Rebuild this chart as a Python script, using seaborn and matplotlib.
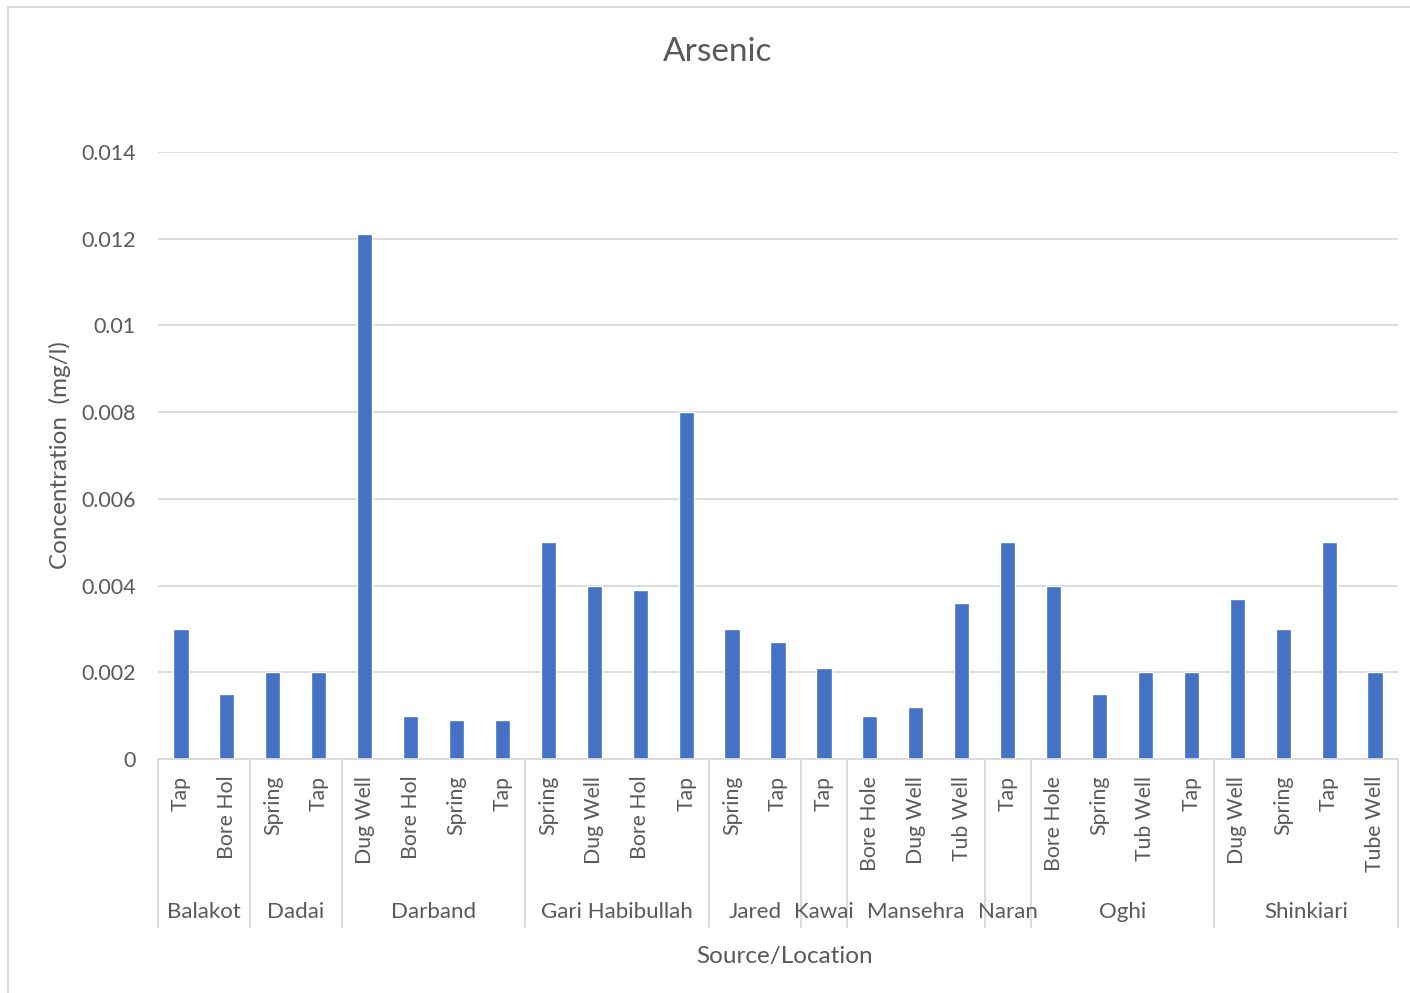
import matplotlib
matplotlib.use("Agg")
import matplotlib.pyplot as plt
from matplotlib.lines import Line2D
import seaborn as sns
import pandas as pd

# Arsenic concentration by location and water source
locations = ["Balakot", "Balakot",
             "Dadai", "Dadai",
             "Darband", "Darband", "Darband", "Darband",
             "Gari Habibullah", "Gari Habibullah", "Gari Habibullah", "Gari Habibullah",
             "Jared", "Jared",
             "Kawai",
             "Mansehra", "Mansehra", "Mansehra",
             "Naran",
             "Oghi", "Oghi", "Oghi", "Oghi",
             "Shinkiari", "Shinkiari", "Shinkiari", "Shinkiari"]
sources = ["Tap", "Bore Hol",
           "Spring", "Tap",
           "Dug Well", "Bore Hol", "Spring", "Tap",
           "Spring", "Dug Well", "Bore Hol", "Tap",
           "Spring", "Tap",
           "Tap",
           "Bore Hole", "Dug Well", "Tub Well",
           "Tap",
           "Bore Hole", "Spring", "Tub Well", "Tap",
           "Dug Well", "Spring", "Tap", "Tube Well"]
arsenic = [0.003, 0.0015,
           0.002, 0.002,
           0.0121, 0.001, 0.0009, 0.0009,
           0.005, 0.004, 0.0039, 0.008,
           0.003, 0.0027,
           0.0021,
           0.001, 0.0012, 0.0036,
           0.005,
           0.004, 0.0015, 0.002, 0.002,
           0.0037, 0.003, 0.005, 0.002]
y_ticks = [0, 0.002, 0.004, 0.006, 0.008, 0.01, 0.012, 0.014]
y_tick_labels = ["0", "0.002", "0.004", "0.006", "0.008", "0.01", "0.012", "0.014"]

TEXT = "#595959"
GRID = "#D9D9D9"
BAR = "#4472C4"
FONT = ["Lato", "DejaVu Sans"]

sns.set_theme(style="white")
plt.rcParams["font.family"] = FONT

df = pd.DataFrame({"location": locations, "source": sources, "value": arsenic})
df["key"] = [f"{l}|{s}|{i}" for i, (l, s) in enumerate(zip(locations, sources))]

fig = plt.figure(figsize=(14.10, 9.93), dpi=100)
ax = fig.add_axes([158 / 1410, 1 - 759 / 993, (1398 - 158) / 1410, (759 - 152) / 993])

sns.barplot(data=df, x="key", y="value", order=list(df["key"]), color=BAR,
            saturation=1, width=0.33, ax=ax, errorbar=None)

ax.set_xlim(-0.5, len(df) - 0.5)
ax.set_ylim(0, 0.014)
ax.set_yticks(y_ticks)
ax.set_yticklabels(y_tick_labels)
ax.yaxis.grid(True, color=GRID, linewidth=1.3)
ax.set_axisbelow(True)
for side in ["top", "right", "left"]:
    ax.spines[side].set_visible(False)
ax.spines["bottom"].set_color(GRID)
ax.spines["bottom"].set_linewidth(1.3)
ax.tick_params(axis="y", length=0, pad=16, labelsize=15.4, labelcolor=TEXT)

# inner level: water source labels
ax.set_xticks(range(len(df)))
ax.set_xticklabels(sources, rotation=90, va="top", ha="center")
ax.tick_params(axis="x", length=0, pad=12, labelsize=15.3, labelcolor=TEXT)
ax.set_xlabel("")
ax.set_ylabel("")

# outer level: location labels and separators
trans = ax.get_xaxis_transform()
sep_bottom = (759 - 927) / (759 - 152)
label_y = (759 - 912) / (759 - 152)
groups = []
for i, loc in enumerate(locations):
    if not groups or groups[-1][0] != loc:
        groups.append([loc, i, i])
    else:
        groups[-1][2] = i
for loc, start, end in groups:
    ax.text((start + end) / 2, label_y, loc, transform=trans, ha="center", va="center",
            fontsize=16, color=TEXT)
    ax.add_line(Line2D([start - 0.5, start - 0.5], [0, sep_bottom], transform=trans,
                       color=GRID, linewidth=1.3, clip_on=False))
ax.add_line(Line2D([len(df) - 0.5, len(df) - 0.5], [0, sep_bottom], transform=trans,
                   color=GRID, linewidth=1.3, clip_on=False))

fig.text(718 / 1410, 1 - 52 / 993, "Arsenic", ha="center", va="center",
         fontsize=24, color=TEXT)
fig.text(785 / 1410, 1 - 957 / 993, "Source/Location", ha="center", va="center",
         fontsize=17.5, color=TEXT)
fig.text(60 / 1410, 1 - 455 / 993, "Concentration  (mg/l)", ha="center", va="center",
         rotation=90, fontsize=17.5, color=TEXT)

# chart frame
fig.add_artist(Line2D([8 / 1410, 8 / 1410], [0, 1 - 7 / 993], transform=fig.transFigure,
                      color=GRID, linewidth=1.5))
fig.add_artist(Line2D([8 / 1410, 1], [1 - 7 / 993, 1 - 7 / 993], transform=fig.transFigure,
                      color=GRID, linewidth=1.5))

fig.savefig("out.png", dpi=100, facecolor="white")
